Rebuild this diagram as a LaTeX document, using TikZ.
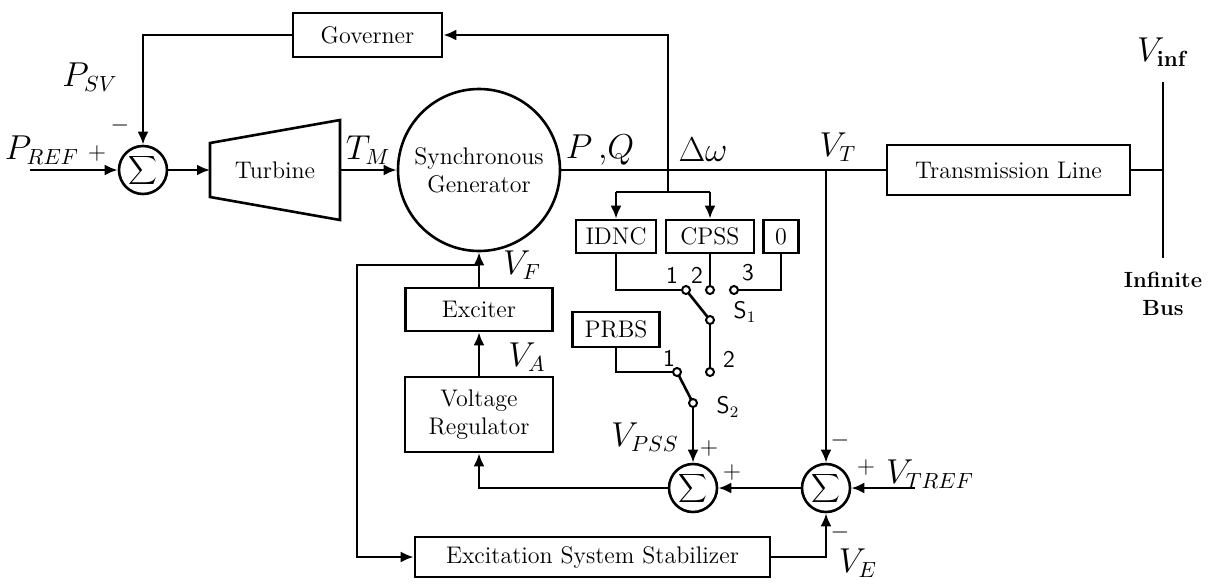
\documentclass[tikz,border=0pt]{standalone}
\usetikzlibrary{arrows.meta,calc}
\begin{document}
\begin{tikzpicture}[x=0.5pt,y=-0.5pt,
  ln/.style={line width=1.3pt},
  arr/.style={line width=1.3pt,-{Latex[length=6.5pt,width=5.5pt]}},
  blk/.style={draw,line width=1.3pt,font=\fontsize{12}{14}\selectfont,inner sep=0pt,align=center},
  sumn/.style={draw,circle,line width=1.3pt,minimum size=24pt,inner sep=0pt,font=\fontsize{11}{12}\selectfont},
  lbl/.style={font=\fontsize{16}{18}\selectfont,inner sep=0pt},
  sgn/.style={font=\fontsize{12}{13}\selectfont,inner sep=0pt},
  ctc/.style={draw,circle,fill=white,line width=1pt,minimum size=4pt,inner sep=0pt},
  swl/.style={font=\sffamily\fontsize{12}{13}\selectfont,inner sep=0pt}]
\useasboundingbox (0,0) rectangle (1214,584);

% blocks
\node[blk,minimum width=74.5pt,minimum height=22pt] (gov) at (367.5,35) {Governer};
\node[sumn] (s1) at (143,170) {$\displaystyle\sum$};
\draw[ln] (210,143) -- (340,120) -- (340,220) -- (210,197) -- cycle;
\node[font=\fontsize{12}{14}\selectfont] (tur) at (275,170) {Turbine};
\coordinate (turL) at (210,170);
\coordinate (turR) at (340,170);
\node[blk,circle,minimum size=81pt] (gen) at (479,170) {Synchronous\\Generator};
\node[blk,minimum width=121.5pt,minimum height=25pt] (tl) at (1008.5,170) {Transmission Line};
\coordinate (busT) at (1163,82);
\coordinate (busB) at (1163,258);

\node[blk,minimum width=40pt,minimum height=16.5pt] (idnc) at (616,236.5) {IDNC};
\node[blk,minimum width=44pt,minimum height=16.5pt] (cpss) at (710,236.5) {CPSS};
\node[blk,minimum width=17.5pt,minimum height=16.5pt] (zero) at (781,236.5) {0};
\node[blk,minimum width=43.5pt,minimum height=17.5pt] (prbs) at (616,329.5) {PRBS};

\node[blk,minimum width=73.5pt,minimum height=21.5pt] (exc) at (479,309.5) {Exciter};
\node[blk,minimum width=74pt,minimum height=37.5pt] (vr) at (479,414.5) {Voltage\\Regulator};
\node[blk,minimum width=177.5pt,minimum height=20pt] (ess) at (592.5,557) {Excitation System Stabilizer};

\node[sumn] (s2) at (693,488) {$\displaystyle\sum$};
\node[sumn] (s3) at (826,488) {$\displaystyle\sum$};

% coordinates
\coordinate (pref) at (30,170);
\coordinate (dwT) at (668,35);
\coordinate (dwB) at (668,192);
\coordinate (vt) at (826,170);
\coordinate (vtref) at (915,488);
\coordinate (fb) at (479,265);
\coordinate (fbL) at (357,265);
\coordinate (c11) at (686,290);
\coordinate (c12) at (710,290);
\coordinate (c13) at (734,290);
\coordinate (p1) at (710,320);
\coordinate (c21) at (677,372);
\coordinate (c22) at (710,372);
\coordinate (p2) at (693,403);

% connectors
\draw[arr] (pref) -- (s1.west);
\draw[arr] (gov.west) -| (s1.north);
\draw[arr] (s1.east) -- (turL);
\draw[arr] (turR) -- (turR -| gen.west);
\draw[ln] (gen.east) -- (tl.west);
\draw[ln] (tl.east) -- (tl.east -| busT);
\draw[ln] (busT) -- (busB);
\draw[arr] (dwB) -- (dwT) -- (gov.east);
\draw[ln] (idnc.north |- dwB) -- (cpss.north |- dwB);
\draw[arr] (idnc.north |- dwB) -- (idnc.north);
\draw[arr] (cpss.north |- dwB) -- (cpss.north);
\draw[ln] (idnc.south) |- (c11);
\draw[ln] (cpss.south) -- (c12);
\draw[ln] (zero.south) |- (c13);
\draw[ln] (c11) -- (p1);
\draw[ln] (p1) -- (c22);
\draw[ln] (prbs.south) |- (c21);
\draw[ln] (c21) -- (p2);
\draw[arr] (p2) -- (s2.north);
\draw[arr] (vt) -- (s3.north);
\draw[arr] (vtref) -- (s3.east);
\draw[arr] (s3.west) -- (s2.east);
\draw[arr] (s2.west) -| (vr.south);
\draw[arr] (vr.north) -- (exc.south);
\draw[arr] (exc.north) -- (gen.south);
\draw[arr] (fb) -- (fbL) |- (ess.west);
\draw[arr] (ess.east) -| (s3.south);

% contacts
\foreach \c in {c11,c12,c13,p1,c21,c22,p2} \node[ctc] at (\c) {};

% labels
\node[lbl] (lpsv) at (90,77) {$P_{SV}$};
\node[lbl] (lpref) at (42,150) {$P_{REF}$};
\node[sgn] (lp1) at (97,153) {$+$};
\node[sgn] (lm1) at (120,125) {$-$};
\node[lbl] (ltm) at (368,150) {$T_M$};
\node[lbl] (lpq) at (600,150) {$P\,{,}Q$};
\node[lbl] (ldw) at (703,150) {$\Delta\omega$};
\node[lbl] (lvt) at (838,147) {$V_T$};
\node[lbl] (lvinf) at (1163,52) {$V_{\mathbf{inf}}$};
\node[font=\bfseries\fontsize{11}{14}\selectfont,align=center] (lbus) at (1163,294) {Infinite\\Bus};
\node[lbl] (lvf) at (522,265) {$V_F$};
\node[lbl] (lva) at (527,357) {$V_A$};
\node[lbl] (lvpss) at (645,437) {$V_{PSS}$};
\node[swl] at (672,275) {1};
\node[swl] at (697,275) {2};
\node[swl] at (748,273) {3};
\node[swl] at (745,312) {S$_1$};
\node[swl] at (729,359) {2};
\node[swl] at (669,358) {1};
\node[swl] at (728,407) {S$_2$};
\node[sgn] at (709,448) {$+$};
\node[sgn] at (732,472) {$+$};
\node[sgn] at (840,440) {$-$};
\node[sgn] at (866,467) {$+$};
\node[lbl] (lvtref) at (930,474) {$V_{TREF}$};
\node[sgn] at (840,532) {$-$};
\node[lbl] (lve) at (858,563) {$V_E$};
\end{tikzpicture}
\end{document}
